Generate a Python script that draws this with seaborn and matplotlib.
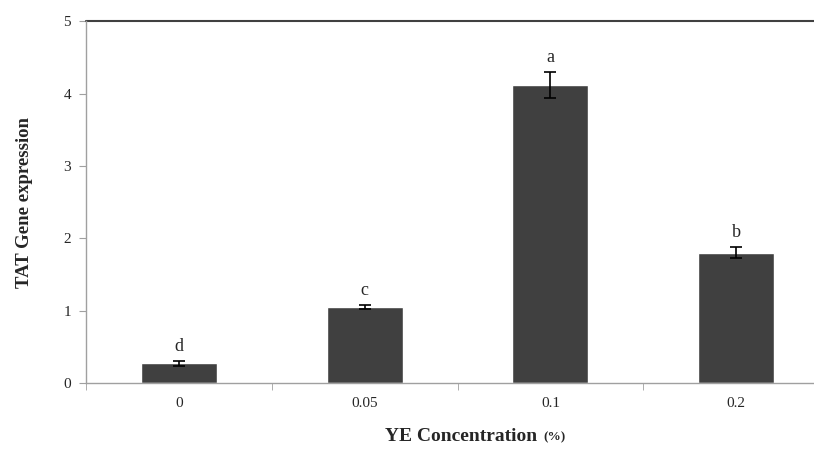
import matplotlib
matplotlib.use('Agg')
import matplotlib.pyplot as plt
import seaborn as sns
import pandas as pd
import numpy as np

concentration = ['0', '0.05', '0.1', '0.2']
expression = [0.27, 1.05, 4.12, 1.80]
error = [0.03, 0.025, 0.18, 0.08]
letters = ['d', 'c', 'a', 'b']

df = pd.DataFrame({'YE': concentration, 'TAT': expression})

sns.set_style('white')
plt.rcParams['font.family'] = ['Liberation Serif', 'DejaVu Serif']

fig = plt.figure(figsize=(8.14, 4.5), dpi=100)
ax = fig.add_axes([0.106, 0.149, 0.894, 0.804])

sns.barplot(data=df, x='YE', y='TAT', color='#404040', width=0.41,
            saturation=1, ax=ax, errorbar=None)
ax.errorbar(range(len(concentration)), expression, yerr=error, fmt='none',
            ecolor='black', elinewidth=1.2, capsize=4, capthick=1.2)

for i, lab in enumerate(letters):
    ax.text(i, expression[i] + error[i] + 0.08, lab, ha='center', va='bottom',
            fontsize=13)

ax.set_yticks([0, 1, 2, 3, 4, 5])
ax.axhline(5, color='#404040', lw=1.5, clip_on=False)

for s in ['top', 'right']:
    ax.spines[s].set_visible(False)
for s in ['left', 'bottom']:
    ax.spines[s].set_color('#a0a0a0')
    ax.spines[s].set_linewidth(1)

ax.set_xticks([0, 1, 2, 3])
ax.set_xticklabels(concentration)
ax.set_xticks([-0.5, 0.5, 1.5, 2.5, 3.5], minor=True)
ax.tick_params(axis='x', which='major', length=0, pad=10, labelsize=11)
ax.tick_params(axis='x', which='minor', length=5, color='#a0a0a0', direction='out')
ax.tick_params(axis='y', length=5, color='#a0a0a0', direction='out', labelsize=11, pad=6)
ax.xaxis.set_ticks_position('bottom')
ax.yaxis.set_ticks_position('left')
ax.set_xlim(-0.5, 3.42)
ax.set_ylim(0, 5)

ax.set_xlabel('')
ax.set_ylabel('TAT Gene expression', fontsize=13.5, fontweight='bold', labelpad=22)
fig.text(0.66, 0.031, 'YE Concentration', fontsize=14, fontweight='bold',
         ha='right', va='center')
fig.text(0.668, 0.028, '(%)', fontsize=9.5, fontweight='bold', ha='left', va='center')

fig.savefig('out.png', dpi=100)
